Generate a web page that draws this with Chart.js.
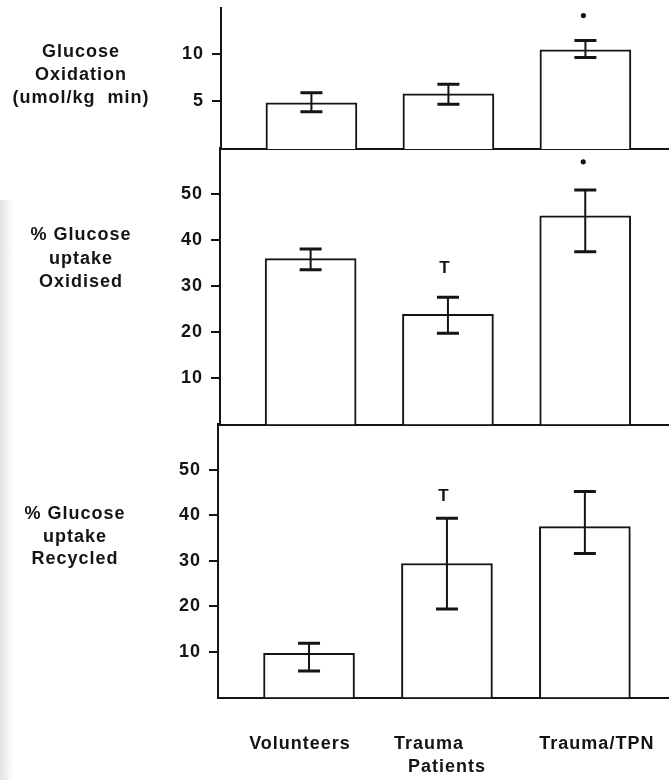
<!DOCTYPE html>
<html>
<head>
<meta charset="utf-8">
<script src="https://cdn.jsdelivr.net/npm/chart.js@4.4.1/dist/chart.umd.min.js"></script>
<style>
  html, body { margin: 0; padding: 0; background: #fff; }
  #wrap { position: relative; width: 669px; height: 780px; overflow: hidden; background: #fff; }
  #wrap canvas { position: absolute; left: 0; }
  #edge { position: absolute; left: 0; top: 200px; width: 14px; height: 580px;
          background: linear-gradient(to right, #e2e2e2, rgba(255,255,255,0)); }
</style>
</head>
<body>
<div id="wrap">
  <div id="edge"></div>
  <canvas id="c1"></canvas>
  <canvas id="c2"></canvas>
  <canvas id="c3"></canvas>
</div>
<script>
// Groups along the x axis
const categories = ['Volunteers', 'Trauma Patients', 'Trauma/TPN'];
const categoryLabels = ['Volunteers   ', ['Trauma      ', 'Patients'], '    Trauma/TPN'];

// Glucose oxidation (umol/kg min): mean with lower / upper error limits
const oxidationMean = [4.85, 5.8, 10.4];
const oxidationLow  = [3.9, 4.7, 9.6];
const oxidationHigh = [5.9, 6.8, 11.4];
const oxidationTicks = [5, 10];
const oxidationMarks = [null, null, '•'];
const oxidationMarkAt = [null, null, 14.0];

// % glucose uptake oxidised
const oxidisedMean = [36.0, 23.9, 45.3];
const oxidisedLow  = [33.6, 19.8, 37.5];
const oxidisedHigh = [38.1, 27.6, 50.9];
const oxidisedMarks = [null, 'T', '•'];
const oxidisedMarkAt = [null, 34.0, 57.0];

// % glucose uptake recycled
const recycledMean = [9.7, 29.4, 37.5];
const recycledLow  = [5.8, 19.4, 31.6];
const recycledHigh = [11.9, 39.3, 45.2];
const recycledMarks = [null, 'T', null];
const recycledMarkAt = [null, 44.2, null];

const percentTicks = [10, 20, 30, 40, 50];

const INK = '#141414';
const FONT = "'Liberation Sans', Arial, Helvetica, sans-serif";

const panels = [
  { id: 'c1', canvasTop: 0, areaTop: 8, areaBottom: 149, canvasBottom: 152, axisX: 221,
    yMax: 14.8, ticks: oxidationTicks,
    mean: oxidationMean, low: oxidationLow, high: oxidationHigh,
    marks: oxidationMarks, markAt: oxidationMarkAt,
    title: ['Glucose', 'Oxidation', '(umol/kg  min)'], titleX: 81, titleY: [52, 75, 98],
    showLabels: false },
  { id: 'c2', canvasTop: 140, areaTop: 148, areaBottom: 424.5, canvasBottom: 427, axisX: 220,
    yMax: 60, ticks: percentTicks,
    mean: oxidisedMean, low: oxidisedLow, high: oxidisedHigh,
    marks: oxidisedMarks, markAt: oxidisedMarkAt,
    title: ['% Glucose', 'uptake', 'Oxidised'], titleX: 81, titleY: [235, 259, 282],
    showLabels: false },
  { id: 'c3', canvasTop: 418, areaTop: 424, areaBottom: 697.5, canvasBottom: 780, axisX: 218,
    yMax: 60, ticks: percentTicks,
    mean: recycledMean, low: recycledLow, high: recycledHigh,
    marks: recycledMarks, markAt: recycledMarkAt,
    title: ['% Glucose', 'uptake', 'Recycled'], titleX: 75, titleY: [514, 537, 559],
    showLabels: true }
];

// Error bars, significance marks and the stacked axis captions
function makeDecor(p) {
  return {
    id: 'decor_' + p.id,
    beforeDraw(chart) { chart.ctx.letterSpacing = '1px'; },
    afterDatasetsDraw(chart) {
      const ctx = chart.ctx;
      const xs = chart.scales.x, ys = chart.scales.y;
      ctx.save();
      ctx.strokeStyle = INK;
      ctx.lineCap = 'butt';
      p.low.forEach((lo, i) => {
        const px = xs.getPixelForValue(i);
        const yl = ys.getPixelForValue(lo);
        const yh = ys.getPixelForValue(p.high[i]);
        ctx.lineWidth = 2;
        ctx.beginPath();
        ctx.moveTo(px, yl); ctx.lineTo(px, yh);
        ctx.stroke();
        ctx.lineWidth = 3;
        ctx.beginPath();
        ctx.moveTo(px - 11, yl); ctx.lineTo(px + 11, yl);
        ctx.moveTo(px - 11, yh); ctx.lineTo(px + 11, yh);
        ctx.stroke();
      });
      ctx.fillStyle = INK;
      p.marks.forEach((m, i) => {
        if (!m) return;
        const px = xs.getPixelForValue(i);
        const py = ys.getPixelForValue(p.markAt[i]);
        if (m === '•') {
          ctx.beginPath(); ctx.arc(px - 2, py, 2.6, 0, Math.PI * 2); ctx.fill();
        } else {
          ctx.font = 'bold 17px ' + FONT;
          ctx.textAlign = 'center'; ctx.textBaseline = 'middle';
          ctx.fillText(m, px - 3, py);
        }
      });
      ctx.font = 'bold 18px ' + FONT;
      ctx.letterSpacing = '1px';
      ctx.textAlign = 'center'; ctx.textBaseline = 'middle';
      p.title.forEach((line, k) => {
        ctx.fillText(line, p.titleX, p.titleY[k] - p.canvasTop);
      });
      ctx.restore();
    }
  };
}

panels.forEach(p => {
  const cv = document.getElementById(p.id);
  const h = p.canvasBottom - p.canvasTop;
  cv.width = 669; cv.height = h;
  cv.style.width = '669px'; cv.style.height = h + 'px';
  cv.style.top = p.canvasTop + 'px';

  new Chart(cv, {
    type: 'bar',
    data: {
      datasets: [{
        data: p.mean.map((v, i) => ({ x: i, y: v })),
        backgroundColor: '#ffffff',
        borderColor: INK,
        borderWidth: 2,
        borderSkipped: 'bottom',
        barThickness: 91
      }]
    },
    options: {
      responsive: false,
      animation: false,
      devicePixelRatio: 1,
      layout: { padding: { top: p.areaTop - p.canvasTop, left: 0, right: 0, bottom: 0 } },
      plugins: { legend: { display: false }, tooltip: { enabled: false } },
      scales: {
        x: {
          type: 'linear',
          offset: false,
          min: -0.66, max: 2.61,
          grid: { display: false, drawTicks: false },
          border: { display: true, color: INK, width: 2 },
          ticks: {
            display: p.showLabels,
            padding: 35,
            color: INK,
            maxRotation: 0,
            autoSkip: false,
            font: { family: FONT, size: 18, weight: 'bold', lineHeight: 1.28 },
            callback: (v) => categoryLabels[v]
          },
          afterBuildTicks: (s) => { s.ticks = categories.map((c, i) => ({ value: i })); },
          afterFit: (s) => {
            s.height = p.canvasBottom - p.areaBottom;
            s.paddingLeft = 0; s.paddingRight = 0; s.paddingTop = 0; s.paddingBottom = 0;
          }
        },
        y: {
          min: 0, max: p.yMax,
          grid: { display: true, drawOnChartArea: false, drawTicks: true, tickLength: 9,
                  color: INK, lineWidth: 2 },
          border: { display: true, color: INK, width: 2 },
          ticks: {
            padding: 8,
            color: INK,
            font: { family: FONT, size: 18, weight: 'bold' }
          },
          afterBuildTicks: (s) => { s.ticks = p.ticks.map(v => ({ value: v })); },
          afterFit: (s) => {
            s.width = p.axisX;
            s.paddingTop = 0; s.paddingBottom = 0; s.paddingLeft = 0; s.paddingRight = 0;
          }
        }
      }
    },
    plugins: [makeDecor(p)]
  });
});
</script>
</body>
</html>
